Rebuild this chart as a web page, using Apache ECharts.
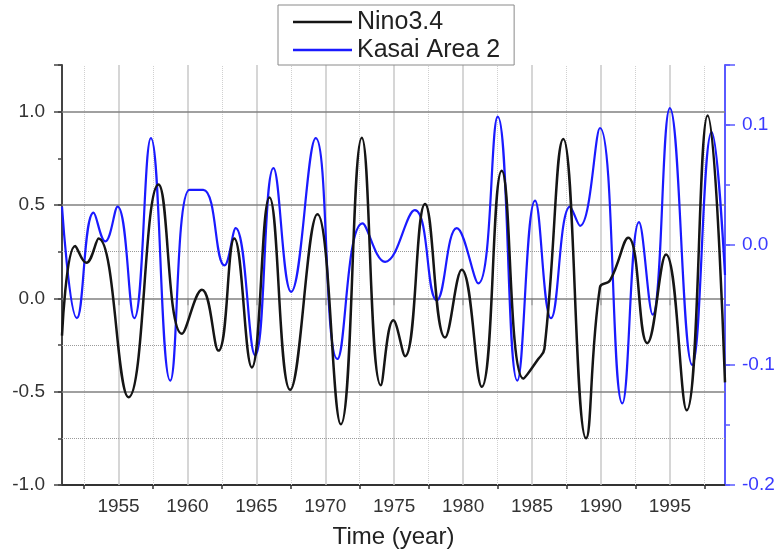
<!DOCTYPE html>
<html><head><meta charset="utf-8">
<script src="https://cdn.jsdelivr.net/npm/echarts@6/dist/echarts.min.js"></script>
<style>html,body{margin:0;padding:0;background:#fff}#c{width:778px;height:558px}</style>
</head><body><div id="c"></div>
<script>
// ---- data ----
const ninoYears  = [1950.9, 1951.86, 1952.66, 1953.55, 1955.73, 1957.9, 1959.6, 1961.05, 1962.25, 1963.4, 1964.67, 1965.95, 1967.45, 1969.43, 1971.13, 1972.65, 1974.03, 1974.94, 1975.79, 1977.24, 1978.69, 1979.9, 1981.35, 1982.8, 1984.37, 1985.4, 1985.9, 1987.27, 1988.92, 1989.93, 1990.66, 1991.98, 1993.36, 1994.72, 1996.22, 1997.74, 1999.0];
const ninoValues = [-0.2, 0.28, 0.19, 0.32, -0.53, 0.61, -0.19, 0.046, -0.28, 0.32, -0.37, 0.54, -0.49, 0.45, -0.675, 0.86, -0.465, -0.118, -0.31, 0.506, -0.21, 0.153, -0.474, 0.684, -0.43, -0.33, -0.27, 0.854, -0.75, 0.06, 0.096, 0.325, -0.24, 0.235, -0.6, 0.98, -0.45];
const kasaiYears  = [1950.9, 1951.98, 1953.19, 1954.04, 1954.93, 1956.14, 1957.35, 1958.75, 1960.15, 1961.15, 1962.69, 1963.5, 1964.91, 1966.24, 1967.52, 1969.31, 1970.88, 1972.7, 1974.34, 1976.5, 1978.09, 1979.54, 1981.1, 1982.51, 1983.93, 1985.22, 1986.38, 1987.76, 1988.48, 1989.93, 1991.55, 1992.76, 1993.75, 1995.0, 1996.62, 1998.03, 1999.0];
const kasaiValues = [0.032, -0.061, 0.027, 0.003, 0.032, -0.061, 0.089, -0.113, 0.046, 0.046, -0.017, 0.014, -0.092, 0.064, -0.039, 0.089, -0.095, 0.018, -0.014, 0.029, -0.046, 0.014, -0.032, 0.107, -0.113, 0.037, -0.061, 0.032, 0.016, 0.0975, -0.132, 0.019, -0.058, 0.114, -0.1, 0.094, -0.025];
const yearTicks  = [1955, 1960, 1965, 1970, 1975, 1980, 1985, 1990, 1995];
const yearMinor  = [1952.5, 1957.5, 1962.5, 1967.5, 1972.5, 1977.5, 1982.5, 1987.5, 1992.5, 1997.5];
const leftMajor  = [1.0, 0.5, 0.0, -0.5];
const leftMinor  = [0.25, -0.25, -0.75];
const seriesNames = ['Nino3.4', 'Kasai Area 2'];
const xTitle = 'Time (year)';

const FONT = 'Liberation Sans, Arial, Helvetica, sans-serif';
const xMin = 1950.9, xMax = 1999.0;
const pair = (xs, ys) => xs.map((x, i) => [x, ys[i]]);

const gridLines = [].concat(
  yearTicks.map(v => ({ xAxis: v, lineStyle: { color: '#c8c8c8', width: 1.5, type: 'solid' } })),
  yearMinor.map(v => ({ xAxis: v, lineStyle: { color: '#d0d0d0', width: 1, type: 'dotted' } })),
  leftMajor.map(v => ({ yAxis: v, lineStyle: { color: '#808080', width: 1.5, type: 'solid' } })),
  leftMinor.map(v => ({ yAxis: v, lineStyle: { color: '#9a9a9a', width: 1, type: 'dotted' } }))
);

const chart = echarts.init(document.getElementById('c'), null, { renderer: 'canvas' });
chart.setOption({
  animation: false,
  backgroundColor: '#fff',
  textStyle: { fontFamily: FONT },
  grid: { left: 62, right: 53, top: 65, bottom: 73, outerBoundsMode: 'none' },
  legend: {
    data: seriesNames,
    orient: 'vertical', left: 278, top: 5,
    icon: 'rect',
    itemWidth: 59, itemHeight: 2.5, itemGap: 2,
    padding: [4, 14, 2, 15],
    borderColor: '#8a8a8a', borderWidth: 1, backgroundColor: '#fff',
    textStyle: { fontSize: 25, fontFamily: FONT, color: '#222', lineHeight: 26 }
  },
  xAxis: [{
    type: 'value', min: xMin, max: xMax, position: 'bottom',
    name: xTitle, nameLocation: 'middle', nameGap: 40,
    nameTextStyle: { fontSize: 24, color: '#222', fontFamily: FONT },
    axisLine: { show: true, onZero: false, lineStyle: { color: '#333', width: 2 } },
    axisTick: { show: true, customValues: yearMinor, length: 4, lineStyle: { color: '#333', width: 1.5 } },
    axisLabel: { customValues: yearTicks, margin: 12, fontSize: 19, color: '#333', fontFamily: FONT, formatter: v => String(Math.round(v)) },
    splitLine: { show: false }
  }, {
    type: 'value', min: xMin, max: xMax, position: 'bottom',
    axisLine: { show: false },
    axisTick: { show: true, customValues: yearTicks, length: 7, lineStyle: { color: '#333', width: 1.5 } },
    axisLabel: { show: false },
    splitLine: { show: false }
  }],
  yAxis: [{
    type: 'value', min: -1, max: 1.25, interval: 0.25, position: 'left',
    axisLine: { show: true, onZero: false, lineStyle: { color: '#444', width: 2 } },
    axisTick: { show: true, length: 4, lineStyle: { color: '#444', width: 1.5 } },
    axisLabel: {
      margin: 17, fontSize: 19, color: '#333', fontFamily: FONT,
      formatter: v => (Math.abs(v * 2 - Math.round(v * 2)) < 1e-6 && v < 1.1) ? (Math.round(v * 10) / 10).toFixed(1) : ''
    },
    splitLine: { show: false }
  }, {
    type: 'value', min: -0.2, max: 0.15, interval: 0.05, position: 'right',
    axisLine: { show: true, onZero: false, lineStyle: { color: '#5a5aff', width: 2 } },
    axisTick: { show: true, length: 5, lineStyle: { color: '#5a5aff', width: 1.5 } },
    axisLabel: {
      margin: 17, fontSize: 19, color: '#3a3aff', fontFamily: FONT,
      formatter: v => (Math.abs(v * 10 - Math.round(v * 10)) < 1e-6 && v < 0.12) ? (Math.round(v * 10) / 10).toFixed(1) : ''
    },
    splitLine: { show: false }
  }, {
    type: 'value', min: -1, max: 1.25, interval: 0.5, position: 'left',
    axisLine: { show: false },
    axisTick: { show: true, length: 8, lineStyle: { color: '#444', width: 1.5 } },
    axisLabel: { show: false }, splitLine: { show: false }
  }, {
    type: 'value', min: -0.2, max: 0.15, interval: 0.1, position: 'right',
    axisLine: { show: false },
    axisTick: { show: true, length: 10, lineStyle: { color: '#5a5aff', width: 1.5 } },
    axisLabel: { show: false }, splitLine: { show: false }
  }],
  series: [{
    type: 'line', name: '__grid', xAxisIndex: 0, yAxisIndex: 0, data: [], z: 0, silent: true,
    markLine: { silent: true, symbol: 'none', z: 1, label: { show: false }, emphasis: { disabled: true }, data: gridLines }
  }, {
    type: 'line', name: seriesNames[1], xAxisIndex: 0, yAxisIndex: 1,
    data: pair(kasaiYears, kasaiValues), smooth: 0.45, symbol: 'none', z: 3,
    lineStyle: { color: '#1a1aff', width: 2.2 }, itemStyle: { color: '#1a1aff' }
  }, {
    type: 'line', name: seriesNames[0], xAxisIndex: 0, yAxisIndex: 0,
    data: pair(ninoYears, ninoValues), smooth: 0.45, symbol: 'none', z: 4,
    lineStyle: { color: '#151515', width: 2.5 }, itemStyle: { color: '#151515' }
  }]
});
</script></body></html>
